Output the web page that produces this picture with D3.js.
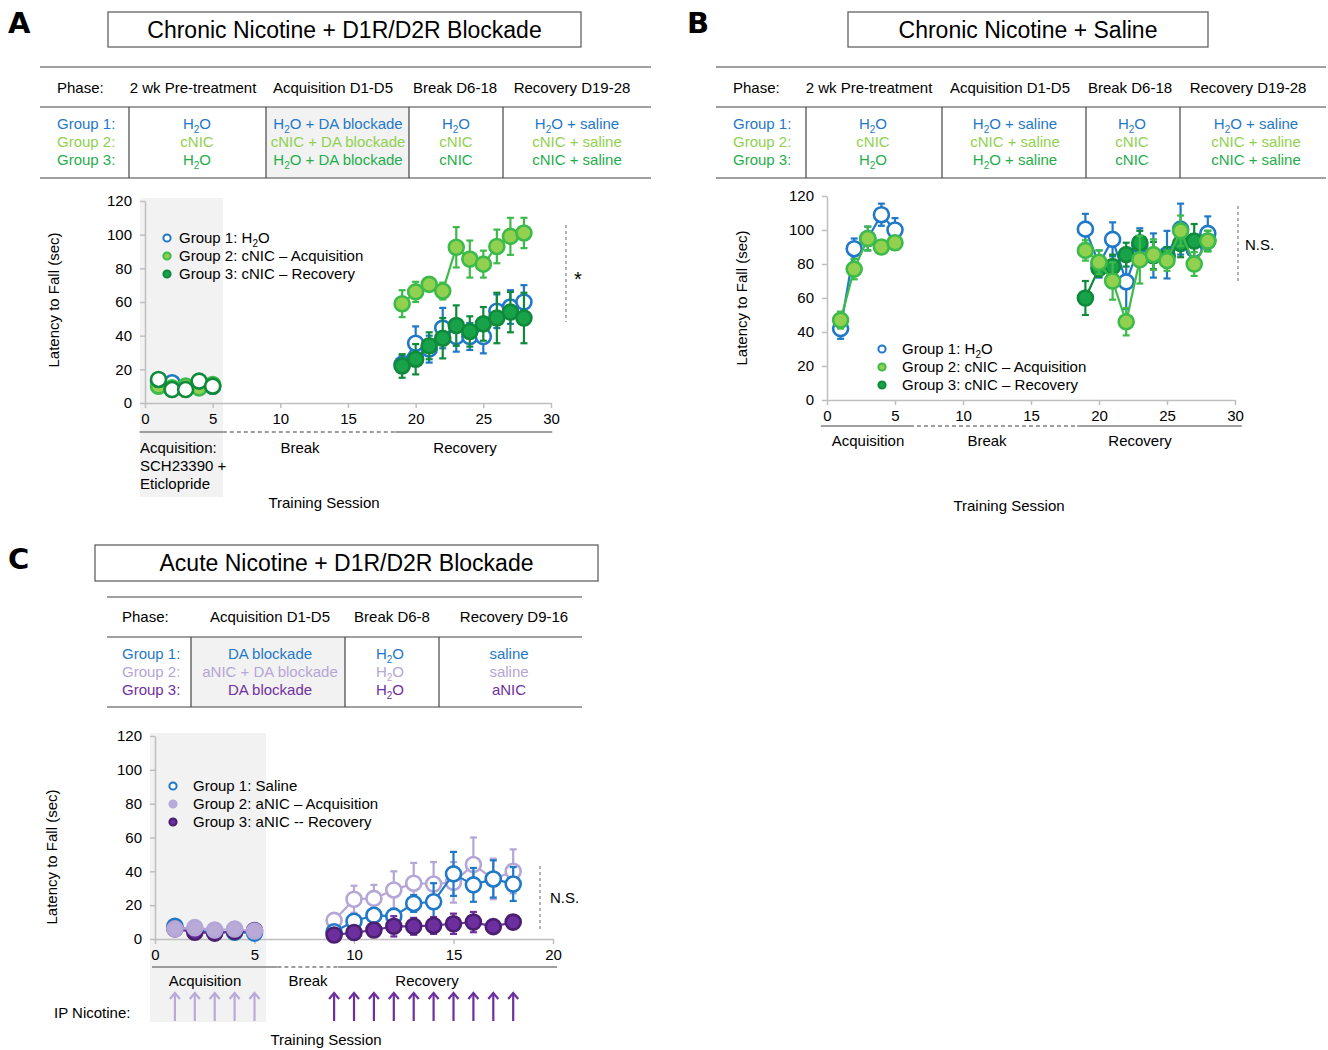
<!DOCTYPE html>
<html>
<head>
<meta charset="utf-8">
<script src="https://cdn.jsdelivr.net/npm/d3@7"></script>
<style>
  body { margin: 0; background: #fff; }
  svg { font-family: "Liberation Sans", Arial, sans-serif; }
</style>
</head>
<body>
<svg id="fig" width="1328" height="1050"></svg>
<script>
// ---- data ----
const acqDays = [1, 2, 3, 4, 5];
const recDaysAB = [19, 20, 21, 22, 23, 24, 25, 26, 27, 28];
const recDaysC = [9, 10, 11, 12, 13, 14, 15, 16, 17, 18];
const yTicks = [0, 20, 40, 60, 80, 100, 120];
const xTicksAB = [0, 5, 10, 15, 20, 25, 30];
const xTicksC = [0, 5, 10, 15, 20];

// panel A: chronic nicotine + D1R/D2R blockade
const aG1Acq = [13, 12, 9, 10, 10];
const aG2Acq = [10, 9, 10, 9, 11];
const aG3Acq = [14, 8, 8, 13, 10];
const aAcqErr = [2, 2, 2, 2, 2];
const aG1Rec = [23, 35.5, 32, 44.5, 39.5, 39.5, 39.5, 54.5, 57, 60];
const aG1RecErr = [5, 10, 8, 12, 9, 8, 10, 10, 10, 10];
const aG2Rec = [59, 66, 70.5, 66.5, 92.5, 85.5, 82.5, 93, 99, 101];
const aG2RecErr = [8, 6, 4, 5, 12, 11, 8, 10, 11, 9];
const aG3Rec = [22, 26, 34, 38.5, 46, 42.5, 47, 50.5, 54, 50.5];
const aG3RecErr = [7, 9, 8, 12, 12, 9, 10, 15, 12, 15];

// panel B: chronic nicotine + saline
const bG1Acq = [42, 89, 95, 109, 100];
const bG1AcqErr = [6, 6, 7, 6.5, 7];
const bG2Acq = [47, 77, 95, 90, 92.5];
const bG2AcqErr = [5, 6, 7, 4, 4];
const bG1Rec = [100.5, 80, 94.5, 69.5, 91, 85, 85.5, 100.5, 88.5, 98];
const bG1RecErr = [9, 8, 10, 16, 10, 13, 14, 15, 9, 10];
const bG2Rec = [88, 81, 70, 46, 82.5, 85.5, 82, 99.5, 80, 93.5];
const bG2RecErr = [6, 7, 11, 8, 14, 9, 6, 9, 7, 6];
const bG3Rec = [60, 77.5, 78.5, 85.5, 92.5, 85, 84, 92, 93.5, 93.5];
const bG3RecErr = [10, 5, 7, 7, 7, 8, 6, 8, 10, 6];

// panel C: acute nicotine + D1R/D2R blockade
const cG1Acq = [7.5, 5, 4, 4, 3.5];
const cG2Acq = [6, 6.7, 5.3, 5.9, 4.7];
const cG3Acq = [6, 4, 3.5, 4.5, 5];
const cAcqErr = [1.5, 1.5, 1.5, 1.5, 1.5];
const cG1Rec = [4.3, 10.5, 14, 13.5, 21, 22, 38.5, 32, 35.5, 32.5];
const cG1RecErr = [3, 4, 4, 4, 5, 11, 13, 10, 11, 10];
const cG2Rec = [11, 23.5, 24, 29, 33, 32.5, 33.5, 44, 35.5, 40];
const cG2RecErr = [4, 8, 8, 11, 12, 13, 12, 16, 12, 13];
const cG3Rec = [2.4, 3.8, 5.3, 7.5, 7.5, 8, 9, 10, 7.3, 10];
const cG3RecErr = [3, 3, 4, 6, 5, 5, 6, 6, 3, 4];

// table texts
const tableHeadA = ["2 wk Pre-treatment", "Acquisition D1-D5", "Break D6-18", "Recovery D19-28"];
const tableRowsA = [
  ["H2O", "H2O + DA blockade", "H2O", "H2O + saline"],
  ["cNIC", "cNIC + DA blockade", "cNIC", "cNIC + saline"],
  ["H2O", "H2O + DA blockade", "cNIC", "cNIC + saline"]
];
const tableHeadB = ["2 wk Pre-treatment", "Acquisition D1-D5", "Break D6-18", "Recovery D19-28"];
const tableRowsB = [
  ["H2O", "H2O  + saline", "H2O", "H2O + saline"],
  ["cNIC", "cNIC + saline", "cNIC", "cNIC + saline"],
  ["H2O", "H2O + saline", "cNIC", "cNIC + saline"]
];
const tableHeadC = ["Acquisition D1-D5", "Break D6-8", "Recovery D9-16"];
const tableRowsC = [
  ["DA blockade", "H2O", "saline"],
  ["aNIC + DA blockade", "H2O", "saline"],
  ["DA blockade", "H2O", "aNIC"]
];
const groupNames = ["Group 1:", "Group 2:", "Group 3:"];
const legendA = ["Group 1: H2O", "Group 2: cNIC \u2013 Acquisition", "Group 3: cNIC \u2013 Recovery"];
const legendB = ["Group 1: H2O", "Group 2: cNIC \u2013 Acquisition", "Group 3: cNIC  \u2013 Recovery"];
const legendC = ["Group 1: Saline", "Group 2: aNIC \u2013 Acquisition", "Group 3: aNIC -- Recovery"];

// ---- colours ----
const blue = "#1f78c8";
const greenTxt = ["#1f78c8", "#8fd14f", "#1fae4b"];
const purpleTxt = ["#1f78c8", "#b4a6d6", "#7030a0"];
const lg = { fill: "#92d050", stroke: "#3dbb4a" };
const dg = { fill: "#18a24a", stroke: "#0e8a3a" };
const lp = { fill: "#b9aad8", stroke: "#b4a6d6" };
const dp = { fill: "#6d2ea0", stroke: "#4a1f70" };
const axisGray = "#bfbfbf";
const lineGray = "#808080";

const svg = d3.select("#fig");

// text with H2O subscripts
function richText(sel, str, subSize) {
  const parts = str.split("H2O");
  parts.forEach((p, i) => {
    if (p) sel.append("tspan").text(p);
    if (i < parts.length - 1) {
      sel.append("tspan").text("H");
      sel.append("tspan").text("2").attr("font-size", subSize).attr("dy", 4);
      sel.append("tspan").text("O").attr("dy", -4);
    }
  });
  return sel;
}

function titleBox(x0, y0, x1, y1, label) {
  svg.append("rect").attr("x", x0).attr("y", y0).attr("width", x1 - x0).attr("height", y1 - y0)
    .attr("fill", "none").attr("stroke", "#555").attr("stroke-width", 1.2);
  svg.append("text").attr("x", (x0 + x1) / 2).attr("y", (y0 + y1) / 2 + 8)
    .attr("text-anchor", "middle").attr("font-size", 23).text(label);
}

function panelLetter(x, y, l) {
  svg.append("text").attr("x", x).attr("y", y).attr("font-family", "DejaVu Sans")
    .attr("font-weight", "bold").attr("font-size", 29).text(l);
}

function drawTable(t) {
  const g = svg.append("g");
  if (t.shade) g.append("rect").attr("x", t.shade[0]).attr("y", t.mid).attr("width", t.shade[1] - t.shade[0])
    .attr("height", t.bottom - t.mid).attr("fill", "#f2f2f2");
  [t.top, t.mid, t.bottom].forEach(y => g.append("line").attr("x1", t.x0).attr("x2", t.x1)
    .attr("y1", y).attr("y2", y).attr("stroke", lineGray).attr("stroke-width", 1.5));
  t.vlines.forEach(x => g.append("line").attr("x1", x).attr("x2", x).attr("y1", t.mid).attr("y2", t.bottom)
    .attr("stroke", "#444").attr("stroke-width", 1.2));
  g.append("text").attr("x", t.labelX).attr("y", t.headY + 5).attr("font-size", 15).text("Phase:");
  t.head.forEach((h, i) => g.append("text").attr("x", t.headX[i]).attr("y", t.headY + 5)
    .attr("text-anchor", "middle").attr("font-size", 15).text(h));
  t.rows.forEach((row, r) => {
    const y = t.rowY[r] + 5;
    g.append("text").attr("x", t.labelX).attr("y", y).attr("font-size", 15).attr("fill", t.colors[r]).text(groupNames[r]);
    row.forEach((c, i) => richText(g.append("text").attr("x", t.cellX[i]).attr("y", y)
      .attr("text-anchor", "middle").attr("font-size", 15).attr("fill", t.colors[r]), c, 10));
  });
}

function drawChart(c) {
  const x = d3.scaleLinear().domain(c.xDomain).range(c.xRange);
  const y = d3.scaleLinear().domain([0, 120]).range(c.yRange);
  const g = svg.append("g");
  if (c.shade) g.append("rect").attr("x", c.shade[0]).attr("y", c.shade[1])
    .attr("width", c.shade[2] - c.shade[0]).attr("height", c.shade[3] - c.shade[1]).attr("fill", "#f2f2f2");

  const ya = g.append("g").attr("transform", `translate(${c.xRange[0]},0)`)
    .call(d3.axisLeft(y).tickValues(yTicks).tickSize(5).tickSizeOuter(0).tickPadding(8));
  const xa = g.append("g").attr("transform", `translate(0,${c.yRange[0]})`)
    .call(d3.axisBottom(x).tickValues(c.xTicks).tickSize(5).tickSizeOuter(0).tickPadding(5));
  [ya, xa].forEach(a => {
    a.selectAll("path, line").attr("stroke", axisGray).attr("stroke-width", 1.5);
    a.selectAll("text").attr("font-size", 15).attr("fill", "#000").attr("font-family", "Liberation Sans, Arial");
  });

  // series: line, error bars, markers
  c.series.forEach(s => {
    const pts = s.days.map((d, i) => ({ d, v: s.vals[i], e: s.err[i] }));
    g.append("path").datum(pts)
      .attr("d", d3.line().x(p => x(p.d)).y(p => y(p.v)))
      .attr("fill", "none").attr("stroke", s.line).attr("stroke-width", 2.2);
    const eb = g.append("g").attr("stroke", s.line).attr("stroke-width", 2.2);
    pts.forEach(p => {
      eb.append("line").attr("x1", x(p.d)).attr("x2", x(p.d)).attr("y1", y(p.v - p.e)).attr("y2", y(p.v + p.e));
      [p.v - p.e, p.v + p.e].forEach(v => eb.append("line").attr("x1", x(p.d) - 3.5).attr("x2", x(p.d) + 3.5)
        .attr("y1", y(v)).attr("y2", y(v)));
    });
    g.append("g").selectAll("circle").data(pts).join("circle")
      .attr("cx", p => x(p.d)).attr("cy", p => y(p.v)).attr("r", 7.5)
      .attr("fill", s.fill).attr("stroke", s.stroke).attr("stroke-width", 2.6);
  });

  // legend
  c.legend.forEach((l, i) => {
    const ly = c.legendY + i * 18;
    g.append("circle").attr("cx", c.legendX).attr("cy", ly).attr("r", 3.6)
      .attr("fill", l.fill).attr("stroke", l.stroke).attr("stroke-width", 2);
    richText(g.append("text").attr("x", c.legendX + c.legendGap).attr("y", ly + 5).attr("font-size", 15), l.text, 10);
  });

  // significance marker
  g.append("line").attr("x1", c.sig.x).attr("x2", c.sig.x).attr("y1", c.sig.y0).attr("y2", c.sig.y1)
    .attr("stroke", lineGray).attr("stroke-dasharray", "3,3").attr("stroke-width", 1.2);
  g.append("text").attr("x", c.sig.x + c.sig.dx).attr("y", (c.sig.y0 + c.sig.y1) / 2 + c.sig.dy)
    .attr("font-size", c.sig.size).text(c.sig.text);

  // phase bar under the x axis
  const pb = c.phaseBar;
  [[pb.b[0], pb.b[1], null], [pb.b[1], pb.b[2], "4,3"], [pb.b[2], pb.b[3], null]].forEach(seg =>
    g.append("line").attr("x1", x(seg[0])).attr("x2", x(seg[1])).attr("y1", pb.y).attr("y2", pb.y)
      .attr("stroke", seg[1] ? "#7f7f7f" : "#7f7f7f").attr("stroke-width", 1.6)
      .attr("stroke-dasharray", seg[2]));
  pb.labels.forEach(l => g.append("text").attr("x", l.x).attr("y", l.y).attr("font-size", 15)
    .attr("text-anchor", l.anchor || "middle").text(l.t));

  g.append("text").attr("transform", `translate(${c.yTitle[0]},${c.yTitle[1]}) rotate(-90)`)
    .attr("text-anchor", "middle").attr("font-size", 15).text("Latency to Fall (sec)");
  g.append("text").attr("x", c.xTitle[0]).attr("y", c.xTitle[1]).attr("text-anchor", "middle")
    .attr("font-size", 15).text("Training Session");
  return { x, y, g };
}

// ================= Panel A =================
panelLetter(8, 33, "A");
titleBox(108, 12, 581, 47, "Chronic Nicotine + D1R/D2R Blockade");
drawTable({ x0: 40, x1: 651, top: 67, mid: 107, bottom: 178, headY: 88, rowY: [124, 142, 160],
  vlines: [129, 266, 409, 503], shade: [266, 409], labelX: 57,
  head: tableHeadA, headX: [193, 333, 455, 572], rows: tableRowsA, cellX: [197, 338, 456, 577], colors: greenTxt });

const white = "#fff";
drawChart({
  xDomain: [0, 30], xRange: [145, 551], yRange: [403, 201], xTicks: xTicksAB,
  shade: [140, 198, 223, 497],
  series: [
    { days: acqDays, vals: aG1Acq, err: aAcqErr, line: blue, fill: white, stroke: blue },
    { days: acqDays, vals: aG2Acq, err: aAcqErr, line: lg.stroke, fill: lg.fill, stroke: lg.stroke },
    { days: acqDays, vals: aG3Acq, err: aAcqErr, line: dg.stroke, fill: white, stroke: dg.stroke },
    { days: recDaysAB, vals: aG1Rec, err: aG1RecErr, line: blue, fill: white, stroke: blue },
    { days: recDaysAB, vals: aG2Rec, err: aG2RecErr, line: lg.stroke, fill: lg.fill, stroke: lg.stroke },
    { days: recDaysAB, vals: aG3Rec, err: aG3RecErr, line: dg.stroke, fill: dg.fill, stroke: dg.stroke }
  ],
  legend: [
    { text: legendA[0], fill: white, stroke: blue },
    { text: legendA[1], fill: lg.fill, stroke: lg.stroke },
    { text: legendA[2], fill: dg.fill, stroke: dg.stroke }
  ],
  legendX: 167, legendGap: 12, legendY: 238,
  sig: { x: 566, y0: 225, y1: 322, dx: 8, dy: 12, size: 20, text: "*" },
  phaseBar: { y: 432, b: [-0.4, 5.75, 18.5, 30.1], labels: [
    { t: "Acquisition:", x: 140, y: 453, anchor: "start" },
    { t: "SCH23390 +", x: 140, y: 471, anchor: "start" },
    { t: "Eticlopride", x: 140, y: 489, anchor: "start" },
    { t: "Break", x: 300, y: 453 },
    { t: "Recovery", x: 465, y: 453 }
  ] },
  yTitle: [59, 300], xTitle: [324, 508]
});

// ================= Panel B =================
panelLetter(687, 33, "B");
titleBox(848, 12, 1208, 47, "Chronic Nicotine + Saline");
drawTable({ x0: 716, x1: 1326, top: 67, mid: 107, bottom: 178, headY: 88, rowY: [124, 142, 160],
  vlines: [806, 942, 1086, 1180], shade: null, labelX: 733,
  head: tableHeadB, headX: [869, 1010, 1130, 1248], rows: tableRowsB, cellX: [873, 1015, 1132, 1256], colors: greenTxt });

drawChart({
  xDomain: [0, 30], xRange: [827, 1235], yRange: [400, 196], xTicks: xTicksAB,
  shade: null,
  series: [
    { days: acqDays, vals: bG1Acq, err: bG1AcqErr, line: blue, fill: white, stroke: blue },
    { days: acqDays, vals: bG2Acq, err: bG2AcqErr, line: lg.stroke, fill: lg.fill, stroke: lg.stroke },
    { days: recDaysAB, vals: bG1Rec, err: bG1RecErr, line: blue, fill: white, stroke: blue },
    { days: recDaysAB, vals: bG3Rec, err: bG3RecErr, line: dg.stroke, fill: dg.fill, stroke: dg.stroke },
    { days: recDaysAB, vals: bG2Rec, err: bG2RecErr, line: lg.stroke, fill: lg.fill, stroke: lg.stroke }
  ],
  legend: [
    { text: legendB[0], fill: white, stroke: blue },
    { text: legendB[1], fill: lg.fill, stroke: lg.stroke },
    { text: legendB[2], fill: dg.fill, stroke: dg.stroke }
  ],
  legendX: 882, legendGap: 20, legendY: 349,
  sig: { x: 1238, y0: 206, y1: 283, dx: 7, dy: 5, size: 15, text: "N.S." },
  phaseBar: { y: 426, b: [-0.45, 6.1, 18.4, 30.5], labels: [
    { t: "Acquisition", x: 868, y: 446 },
    { t: "Break", x: 987, y: 446 },
    { t: "Recovery", x: 1140, y: 446 }
  ] },
  yTitle: [747, 298], xTitle: [1009, 511]
});

// ================= Panel C =================
panelLetter(8, 569, "C");
titleBox(95, 545, 598, 581, "Acute Nicotine + D1R/D2R Blockade");
drawTable({ x0: 107, x1: 582, top: 597, mid: 637, bottom: 707, headY: 617, rowY: [654, 672, 690],
  vlines: [191, 345, 439], shade: [191, 345], labelX: 122,
  head: tableHeadC, headX: [270, 392, 514], rows: tableRowsC, cellX: [270, 390, 509], colors: purpleTxt });

const cc = drawChart({
  xDomain: [0, 20], xRange: [155, 553], yRange: [939, 736], xTicks: xTicksC,
  shade: [150, 733, 266, 1022],
  series: [
    { days: acqDays, vals: cG1Acq, err: cAcqErr, line: blue, fill: white, stroke: blue },
    { days: acqDays, vals: cG3Acq, err: cAcqErr, line: dp.fill, fill: dp.fill, stroke: dp.stroke },
    { days: acqDays, vals: cG2Acq, err: cAcqErr, line: lp.stroke, fill: lp.fill, stroke: lp.stroke },
    { days: recDaysC, vals: cG2Rec, err: cG2RecErr, line: lp.stroke, fill: white, stroke: lp.stroke },
    { days: recDaysC, vals: cG1Rec, err: cG1RecErr, line: blue, fill: white, stroke: blue },
    { days: recDaysC, vals: cG3Rec, err: cG3RecErr, line: dp.fill, fill: dp.fill, stroke: dp.stroke }
  ],
  legend: [
    { text: legendC[0], fill: white, stroke: blue },
    { text: legendC[1], fill: lp.fill, stroke: lp.fill },
    { text: legendC[2], fill: dp.fill, stroke: dp.stroke }
  ],
  legendX: 173, legendGap: 20, legendY: 786,
  sig: { x: 540, y0: 866, y1: 930, dx: 10, dy: 5, size: 15, text: "N.S." },
  phaseBar: { y: 967, b: [-0.15, 6.15, 9.2, 20.2], labels: [
    { t: "Acquisition", x: 205, y: 986 },
    { t: "Break", x: 308, y: 986 },
    { t: "Recovery", x: 427, y: 986 }
  ] },
  yTitle: [57, 857], xTitle: [326, 1045]
});

// IP nicotine arrows
svg.append("text").attr("x", 54).attr("y", 1018).attr("font-size", 15).text("IP Nicotine:");
function arrows(days, color) {
  const a = svg.append("g").attr("stroke", color).attr("stroke-width", 2.2).attr("fill", "none");
  days.forEach(d => {
    const ax = cc.x(d);
    a.append("line").attr("x1", ax).attr("x2", ax).attr("y1", 1021).attr("y2", 993);
    a.append("polyline").attr("points", `${ax - 5},${999} ${ax},${993} ${ax + 5},${999}`);
  });
}
arrows(acqDays, lp.fill);
arrows(recDaysC, dp.fill);
</script>
</body>
</html>
